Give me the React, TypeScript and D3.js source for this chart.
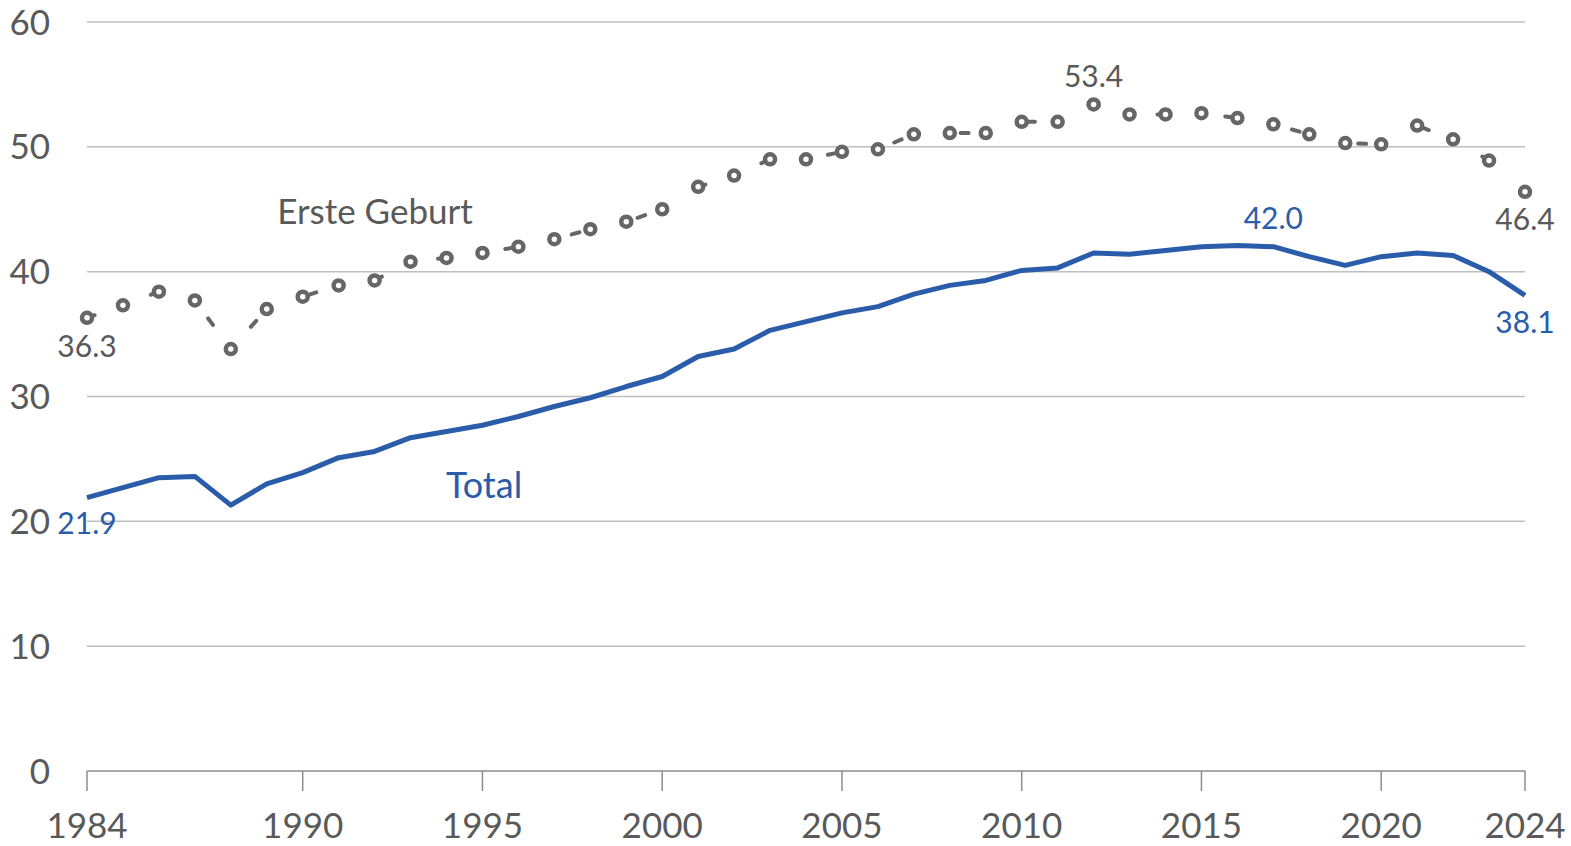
import { useMemo } from "react";
import * as d3 from "d3";

const W = 1571, H = 846;
const FONT = "Lato, 'Noto Sans', sans-serif";
const GRAY = "#595959";
const MARK = "#666666";
const BLUE = "#2A5CAA";

const years = d3.range(1984, 2025);

const ersteGeburt = [
  36.3, 37.3, 38.4, 37.7, 33.8, 37.0, 38.0, 38.9, 39.3, 40.8,
  41.1, 41.5, 42.0, 42.6, 43.4, 44.0, 45.0, 46.8, 47.7, 49.0,
  49.0, 49.6, 49.8, 51.0, 51.1, 51.1, 52.0, 52.0, 53.4, 52.6,
  52.6, 52.7, 52.3, 51.8, 51.0, 50.3, 50.2, 51.7, 50.6, 48.9, 46.4,
];

const total = [
  21.9, 22.7, 23.5, 23.6, 21.3, 23.0, 23.9, 25.1, 25.6, 26.7,
  27.2, 27.7, 28.4, 29.2, 29.9, 30.8, 31.6, 33.2, 33.8, 35.3,
  36.0, 36.7, 37.2, 38.2, 38.9, 39.3, 40.1, 40.3, 41.5, 41.4,
  41.7, 42.0, 42.1, 42.0, 41.2, 40.5, 41.2, 41.5, 41.3, 40.0, 38.1,
];

const yTicks = [0, 10, 20, 30, 40, 50, 60];
const xTicks = [1984, 1990, 1995, 2000, 2005, 2010, 2015, 2020, 2024];

// labelled points: [year, offset in px]
const ersteLabels: [number, number][] = [[1984, 28], [2012, -28], [2024, 27]];
const totalLabels: [number, number][] = [[1984, 26], [2017, -29], [2024, 27]];

export default function App() {
  const x = d3.scaleLinear([1984, 2024], [87, 1525]);
  const y = d3.scaleLinear([0, 60], [771, 22]);

  const line = useMemo(
    () => d3.line<number>().x((_, i) => x(years[i])).y((v) => y(v)),
    []
  );

  const valAt = (arr: number[], yr: number) => arr[years.indexOf(yr)];

  return (
    <svg width={W} height={H} style={{ position: "absolute", left: 0, top: 0, background: "#fff" }}
      fontFamily={FONT}>
      {yTicks.filter((t) => t > 0).map((t) => (
        <line key={t} x1={x(1984)} x2={x(2024)} y1={y(t)} y2={y(t)} stroke="#BFBFBF" strokeWidth={1.5} />
      ))}
      <line x1={x(1984)} x2={x(2024)} y1={y(0)} y2={y(0)} stroke="#8C8C8C" strokeWidth={1.5} />
      {xTicks.map((t) => (
        <line key={t} x1={x(t)} x2={x(t)} y1={y(0)} y2={y(0) + 20} stroke="#8C8C8C" strokeWidth={1.5} />
      ))}
      {yTicks.map((t) => (
        <text key={t} x={50} y={y(t)} dy="0.36em" textAnchor="end" fontSize={35} fill={GRAY}>{t}</text>
      ))}
      {xTicks.map((t) => (
        <text key={t} x={x(t)} y={838} textAnchor="middle" fontSize={35} fill={GRAY}>{t}</text>
      ))}

      {/* Erste Geburt: sparse dashes, mostly hidden behind the hollow markers */}
      <path d={line(ersteGeburt) ?? ""} fill="none" stroke={MARK} strokeWidth={4}
        strokeDasharray="8 60" strokeLinecap="round" />
      {ersteGeburt.map((v, i) => (
        <circle key={i} cx={x(years[i])} cy={y(v)} r={5} fill="#fff" stroke={MARK} strokeWidth={4.5} />
      ))}

      <path d={line(total) ?? ""} fill="none" stroke={BLUE} strokeWidth={5} strokeLinejoin="round" />

      {ersteLabels.map(([yr, dy]) => (
        <text key={yr} x={x(yr)} y={y(valAt(ersteGeburt, yr)) + dy} dy="0.36em" textAnchor="middle"
          fontSize={30} fill={GRAY}>{valAt(ersteGeburt, yr).toFixed(1)}</text>
      ))}
      {totalLabels.map(([yr, dy]) => (
        <text key={yr} x={x(yr)} y={y(valAt(total, yr)) + dy} dy="0.36em" textAnchor="middle"
          fontSize={30} fill={BLUE}>{valAt(total, yr).toFixed(1)}</text>
      ))}

      <text x={375} y={211} dy="0.36em" textAnchor="middle" fontSize={35} fill={GRAY}>Erste Geburt</text>
      <text x={484} y={485} dy="0.36em" textAnchor="middle" fontSize={36} fill={BLUE}>Total</text>
    </svg>
  );
}
